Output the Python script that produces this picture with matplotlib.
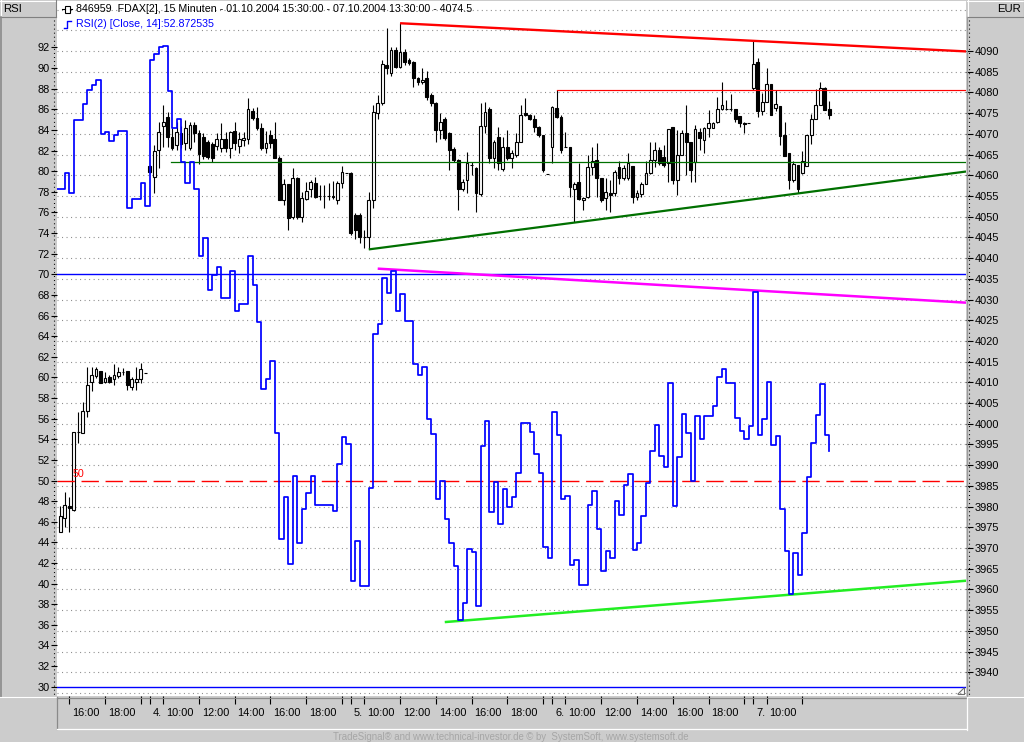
import numpy as np
import matplotlib
matplotlib.use("Agg")
import matplotlib.pyplot as plt
from matplotlib.lines import Line2D
from matplotlib.patches import Rectangle
from matplotlib.ticker import FixedLocator, MultipleLocator
import matplotlib.transforms as mtrans

plt.rcParams['font.family'] = ['Liberation Sans', 'DejaVu Sans']
plt.rcParams['lines.scale_dashes'] = False

# ---------------- data (15-minute bars, FDAX, 01.10.2004 15:30 - 07.10.2004 13:30) ----------------
opens = [3973.9, 3977.2, 3980.1, 3979.2, 3997.9, 3997.7, 4003.1, 4010.2, 4011.5, 4012.8,
         4010.2, 4011.2, 4010.7, 4011.5, 4012.6, 4012.7, 4008.8, 4010.2, 4010.7, 4012.2,
         4062.3, 4059.7, 4066.1, 4071.9, 4074.1, 4069.3, 4067.3, 4070.3, 4067.7, 4066.5,
         4072.1, 4070.3, 4069.3, 4068.1, 4067.5, 4067.1, 4066.5, 4068.7, 4066.5, 4070.7,
         4067.1, 4068.5, 4068.7, 4075.5, 4073.9, 4071.5, 4066.7, 4069.7, 4068.7, 4064.2,
         4054.0, 4057.8, 4050.0, 4059.3, 4050.0, 4054.2, 4056.8, 4058.2, 4055.0, 4055.0,
         4055.0, 4055.0, 4054.0, 4058.2, 4060.5, 4060.5, 4050.3, 4050.3, 4045.2, 4045.0,
         4054.0, 4075.0, 4077.4, 4086.5, 4084.8, 4090.2, 4086.2, 4089.8, 4087.8, 4087.4,
         4083.4, 4082.4, 4083.4, 4079.4, 4077.4, 4070.9, 4073.7, 4070.1, 4066.3, 4063.7,
         4056.8, 4058.8, 4062.5, 4061.7, 4055.5, 4071.9, 4076.1, 4064.1, 4069.3, 4061.5,
         4066.9, 4064.1, 4064.9, 4068.1, 4075.0, 4074.5, 4073.7, 4071.7, 4069.7, 4060.3,
         4066.9, 4076.2, 4074.1, 4066.9, 4066.9, 4056.8, 4058.4, 4054.0, 4054.8, 4062.1,
         4063.7, 4059.3, 4054.4, 4055.8, 4055.6, 4061.9, 4059.3, 4059.3, 4062.3, 4054.8,
         4055.5, 4058.0, 4060.6, 4063.8, 4066.2, 4064.5, 4062.9, 4071.7, 4058.8, 4064.9,
         4070.3, 4068.1, 4063.3, 4070.5, 4068.4, 4071.4, 4071.5, 4072.9, 4076.0, 4076.0,
         4075.9, 4076.0, 4074.2, 4072.7, 4072.7, 4081.0, 4087.4, 4075.5, 4077.7, 4082.0,
         4076.3, 4076.7, 4069.7, 4065.3, 4058.8, 4062.5, 4060.5, 4062.3, 4069.7, 4073.7,
         4077.0, 4081.0, 4075.9]
highs = [3980.1, 3983.6, 3982.4, 3998.0, 4002.9, 4005.3, 4013.8, 4013.8, 4013.8, 4012.8,
         4012.6, 4011.8, 4014.4, 4013.6, 4013.5, 4012.7, 4011.2, 4013.6, 4014.6, 4012.2,
         4062.5, 4067.3, 4072.9, 4076.9, 4075.3, 4071.3, 4072.9, 4071.8, 4073.3, 4072.9,
         4072.9, 4070.9, 4070.1, 4068.5, 4068.1, 4070.1, 4072.5, 4070.5, 4070.7, 4072.9,
         4070.5, 4070.5, 4078.6, 4076.3, 4076.5, 4072.5, 4070.7, 4070.9, 4072.9, 4064.6,
         4059.2, 4058.0, 4061.7, 4059.5, 4056.0, 4058.4, 4058.8, 4059.6, 4057.7, 4057.7,
         4058.2, 4058.6, 4058.7, 4062.2, 4060.5, 4060.7, 4051.0, 4050.8, 4046.8, 4056.0,
         4077.0, 4079.4, 4087.8, 4095.5, 4091.0, 4091.0, 4096.7, 4090.4, 4088.2, 4087.6,
         4083.8, 4085.8, 4085.2, 4079.8, 4077.6, 4075.0, 4074.1, 4070.5, 4066.8, 4064.0,
         4059.0, 4065.7, 4063.2, 4062.1, 4077.4, 4077.7, 4076.5, 4068.5, 4071.7, 4069.3,
         4070.9, 4066.1, 4070.1, 4076.9, 4078.6, 4074.9, 4074.5, 4072.0, 4069.7, 4060.3,
         4076.6, 4080.6, 4074.5, 4070.5, 4066.9, 4058.4, 4063.0, 4054.8, 4064.9, 4066.9,
         4067.7, 4059.3, 4059.3, 4058.8, 4061.3, 4063.5, 4062.5, 4065.3, 4062.3, 4056.5,
         4058.4, 4063.5, 4068.1, 4068.1, 4066.9, 4067.3, 4071.1, 4071.7, 4070.9, 4070.9,
         4076.9, 4068.1, 4072.1, 4071.5, 4071.7, 4075.8, 4072.9, 4079.0, 4082.6, 4078.2,
         4079.5, 4076.0, 4074.4, 4072.9, 4072.7, 4092.3, 4088.2, 4079.8, 4085.8, 4082.0,
         4080.6, 4076.7, 4072.9, 4065.3, 4063.5, 4062.5, 4065.9, 4069.7, 4074.7, 4080.9,
         4082.4, 4081.4, 4077.9]
lows = [3973.9, 3975.1, 3973.9, 3979.0, 3995.4, 3997.7, 4001.7, 4007.8, 4011.0, 4009.8,
        4009.9, 4009.9, 4009.4, 4011.0, 4011.8, 4008.2, 4008.2, 4008.2, 4009.8, 4012.2,
        4060.5, 4055.8, 4061.7, 4066.9, 4066.9, 4066.1, 4066.1, 4066.5, 4066.1, 4066.1,
        4068.1, 4062.7, 4064.0, 4064.0, 4063.2, 4066.1, 4065.7, 4065.7, 4064.2, 4066.1,
        4065.3, 4067.0, 4067.5, 4073.3, 4070.9, 4066.1, 4065.3, 4066.5, 4064.2, 4054.0,
        4052.8, 4046.8, 4049.5, 4049.5, 4048.8, 4054.0, 4054.8, 4054.5, 4054.0, 4052.0,
        4054.0, 4054.2, 4053.0, 4057.0, 4060.5, 4045.5, 4044.5, 4043.7, 4042.5, 4042.2,
        4052.0, 4073.5, 4077.0, 4084.5, 4084.0, 4085.8, 4086.0, 4086.6, 4086.6, 4081.3,
        4081.8, 4082.0, 4078.2, 4076.6, 4068.1, 4068.7, 4068.5, 4061.3, 4063.2, 4051.6,
        4056.2, 4055.6, 4060.1, 4051.2, 4055.0, 4070.1, 4062.9, 4061.7, 4061.3, 4061.1,
        4063.6, 4061.7, 4064.5, 4068.0, 4074.3, 4073.3, 4070.5, 4069.3, 4060.9, 4060.3,
        4062.9, 4073.8, 4065.3, 4066.9, 4054.8, 4048.8, 4054.0, 4051.6, 4054.6, 4060.1,
        4054.8, 4053.6, 4051.6, 4051.2, 4055.0, 4058.0, 4058.8, 4058.8, 4053.4, 4054.0,
        4054.8, 4057.8, 4060.3, 4062.1, 4062.5, 4062.1, 4058.4, 4058.0, 4055.2, 4064.9,
        4060.0, 4058.4, 4058.4, 4066.0, 4065.3, 4069.3, 4071.3, 4072.5, 4075.8, 4075.8,
        4075.5, 4072.9, 4071.7, 4070.1, 4072.7, 4080.6, 4074.0, 4074.5, 4077.7, 4074.5,
        4075.5, 4067.3, 4064.6, 4056.6, 4058.4, 4055.6, 4060.3, 4062.3, 4067.5, 4073.7,
        4076.9, 4075.8, 4073.7]
closes = [3977.7, 3980.4, 3979.6, 3997.9, 3997.9, 4003.1, 4009.4, 4011.8, 4013.2, 4009.9,
          4011.0, 4010.2, 4011.8, 4012.6, 4012.6, 4009.4, 4010.7, 4010.7, 4013.2, 4012.2,
          4060.8, 4065.9, 4070.5, 4072.9, 4069.3, 4066.6, 4070.5, 4067.5, 4071.3, 4072.1,
          4070.1, 4065.1, 4064.6, 4064.4, 4064.2, 4068.7, 4068.7, 4066.5, 4070.5, 4067.7,
          4068.7, 4069.0, 4076.0, 4073.9, 4071.3, 4066.7, 4067.7, 4067.7, 4064.2, 4054.0,
          4057.8, 4049.8, 4059.3, 4050.0, 4054.4, 4056.2, 4058.4, 4054.8, 4055.0, 4055.0,
          4055.0, 4054.8, 4058.2, 4060.7, 4060.5, 4046.0, 4046.8, 4045.0, 4045.0, 4054.0,
          4075.3, 4077.4, 4086.8, 4086.0, 4090.2, 4086.2, 4089.8, 4087.4, 4087.2, 4083.4,
          4082.4, 4083.0, 4079.0, 4077.4, 4070.9, 4072.9, 4068.9, 4066.1, 4063.7, 4056.8,
          4058.4, 4062.9, 4062.4, 4055.6, 4071.9, 4075.3, 4064.1, 4068.1, 4062.9, 4066.9,
          4064.1, 4065.3, 4068.1, 4074.5, 4074.5, 4073.5, 4071.6, 4069.7, 4061.3, 4060.3,
          4076.4, 4074.0, 4066.1, 4066.9, 4057.2, 4058.0, 4054.2, 4054.4, 4062.1, 4063.5,
          4059.3, 4054.0, 4055.9, 4055.3, 4060.7, 4059.3, 4061.7, 4062.9, 4054.8, 4055.8,
          4057.8, 4060.5, 4063.6, 4066.2, 4062.9, 4062.5, 4071.1, 4058.8, 4064.9, 4070.3,
          4068.1, 4061.3, 4071.1, 4068.9, 4071.4, 4072.7, 4072.5, 4076.0, 4076.9, 4076.0,
          4075.9, 4073.7, 4072.5, 4072.4, 4072.7, 4086.8, 4075.5, 4077.7, 4082.0, 4074.5,
          4077.1, 4069.5, 4064.6, 4058.8, 4062.7, 4056.8, 4063.5, 4069.7, 4073.7, 4077.0,
          4081.0, 4075.8, 4074.5]
rsi = [78.3, 79.8, 77.9, 85.0, 85.0, 86.5, 87.9, 88.4, 88.8, 83.6,
       83.8, 82.9, 83.5, 83.9, 83.9, 76.4, 77.3, 77.3, 78.9, 76.6,
       90.8, 91.4, 92.0, 92.1, 87.8, 84.2, 85.1, 80.9, 78.9, 80.9,
       78.3, 71.8, 73.5, 68.5, 69.9, 70.7, 67.7, 67.7, 70.3, 66.4,
       67.1, 67.1, 71.8, 69.0, 65.4, 58.9, 59.8, 61.6, 54.6, 44.3,
       48.4, 41.9, 50.4, 43.9, 47.2, 48.8, 50.4, 47.6, 47.6, 47.6,
       47.6, 47.0, 51.6, 54.2, 53.5, 40.25, 44.1, 39.8, 39.8, 49.3,
       64.2, 65.2, 69.6, 68.2, 70.3, 66.4, 68.1, 65.5, 65.5, 61.3,
       60.2, 61.0, 56.0, 54.5, 48.2, 50.0, 46.3, 43.9, 41.7, 36.5,
       38.1, 43.4, 43.1, 37.8, 53.3, 55.8, 46.9, 49.9, 45.75, 49.2,
       47.4, 48.4, 50.7, 55.6, 55.6, 54.7, 52.6, 50.7, 43.6, 42.5,
       56.6, 54.4, 48.2, 48.5, 41.8, 42.3, 39.9, 39.9, 47.6, 49.0,
       45.3, 41.2, 43.2, 42.5, 48.0, 46.7, 49.6, 50.6, 43.3, 43.9,
       46.6, 49.8, 52.9, 55.4, 52.4, 51.3, 59.5, 47.5, 52.3, 56.5,
       54.6, 50.0, 56.3, 54.0, 56.3, 56.3, 57.2, 60.0, 60.8, 59.5,
       59.5, 56.1, 54.8, 54.0, 55.3, 68.25, 54.4, 56.0, 59.6, 53.4,
       54.3, 47.2, 43.2, 39.0, 43.0, 40.8, 44.9, 50.3, 53.6, 56.35,
       59.4, 54.4, 52.872535]

# time axis (bar index of each tick and its label)
time_tick_bars = [2, 10, 18, 20, 23, 31, 39, 47, 55, 63, 65, 68, 76, 84, 92, 100, 108,
                  110, 113, 121, 129, 137, 145, 153, 155, 158, 166]
time_tick_labels = ["16:00", "18:00", "", "4.", "10:00", "12:00", "14:00", "16:00", "18:00", "",
                    "5.", "10:00", "12:00", "14:00", "16:00", "18:00", "", "6.", "10:00",
                    "12:00", "14:00", "16:00", "18:00", "", "7.", "10:00", ""]
rsi_ticks = list(range(30, 93, 2))
price_ticks = list(range(3940, 4091, 5))

# drawn studies: (bar, value) anchors; the last bar is the right edge of the chart
red_trend_bars = [76, 202.6]
red_trend_prices = [4096.7, 4089.9]
green_trend_bars = [69, 202.6]
green_trend_prices = [4042.1, 4060.9]
magenta_trend_bars = [71, 202.6]
magenta_trend_rsi = [70.55, 67.25]
lime_trend_bars = [86, 202.6]
lime_trend_rsi = [36.27, 40.28]
red_level_start, red_level = 111, 4080.6
green_level_start, green_level = 24.8, 4063.1
rsi_levels = [70, 30]
rsi_mid = 50

# ---------------- figure ----------------
W, H = 1024, 742
PANEL = '#cccccc'
fig = plt.figure(figsize=(W / 100, H / 100), dpi=100, facecolor=PANEL)


def fx(x):
    return x / W


def fy(y):
    return 1 - y / H


rect = [fx(57), fy(696), 909 / W, 695 / H]
ax_p = fig.add_axes(rect)
ax_r = fig.add_axes(rect)
ax_p.set_facecolor('white')
ax_r.patch.set_visible(False)
XMIN, XMAX = -0.74, 202.6
for ax in (ax_p, ax_r):
    ax.set_xlim(XMIN, XMAX)
    for s in ax.spines.values():
        s.set_visible(False)
ax_p.set_ylim(3934.28, 4102.07)
ax_r.set_ylim(29.10, 96.51)

# grid (price scale, every 5 points)
ax_p.yaxis.set_major_locator(FixedLocator(price_ticks))
ax_p.yaxis.set_minor_locator(MultipleLocator(5))
ax_p.grid(which='both', axis='y', color='#8c8c8c', linestyle=(0, (0.75, 2.5)), linewidth=0.8)
ax_p.set_axisbelow(True)

# right price axis
ax_p.yaxis.tick_right()
ax_p.tick_params(axis='y', which='major', direction='out', length=5, width=0.8, pad=1.5,
                 labelsize=7.9, colors='black')
ax_p.tick_params(axis='y', which='minor', length=0)
ax_p.set_yticklabels([str(v) for v in price_ticks])

# left RSI axis
ax_r.set_yticks(rsi_ticks)
ax_r.set_yticklabels([str(v) for v in rsi_ticks])
ax_r.tick_params(axis='y', direction='out', length=4.3, width=0.8, pad=1.0, labelsize=7.9,
                 colors='black')
ax_r.set_xticks([])

# time axis ticks
ax_p.set_xticks(time_tick_bars)
ax_p.set_xticklabels([''] * len(time_tick_bars))
ax_p.tick_params(axis='x', direction='out', length=5.5, width=0.8, color='black', pad=0)
tt = mtrans.blended_transform_factory(ax_p.transData, fig.transFigure) + \
    mtrans.ScaledTranslation(3 / 100, 0, fig.dpi_scale_trans)
for b, lab in zip(time_tick_bars, time_tick_labels):
    if lab:
        ax_p.text(b, fy(712.5), lab, transform=tt, ha='left', va='center', fontsize=7.9,
                  color='black', clip_on=False)

# candles
bars = np.arange(len(closes))
o, h, l, c = map(np.array, (opens, highs, lows, closes))
ax_p.vlines(bars, l, h, color='black', linewidth=0.8, zorder=3)
fill = np.where(c > o, 'white', 'black')
ax_p.bar(bars, np.abs(c - o), bottom=np.minimum(o, c), width=0.62, color=fill,
         edgecolor='black', linewidth=0.8, zorder=4)

# price studies
ax_p.plot(red_trend_bars, red_trend_prices, color='#ff0000', linewidth=1.7, zorder=5,
          solid_capstyle='butt')
ax_p.plot(green_trend_bars, green_trend_prices, color='#007000', linewidth=1.6, zorder=5,
          solid_capstyle='butt')
ax_p.plot([red_level_start, XMAX], [red_level, red_level], color='#ff0000', linewidth=0.85, zorder=5)
ax_p.plot([green_level_start, XMAX], [green_level, green_level], color='#007000', linewidth=0.9,
          zorder=5)

# RSI
for lev in rsi_levels:
    ax_r.axhline(lev, color='#0000ff', linewidth=1.0, zorder=2)
ax_r.axhline(rsi_mid, color='#ff0000', linewidth=1.0, linestyle=(0, (12.5, 4.8)), zorder=2)
ax_r.text(fx(73 - 57) * W / 909, rsi_mid, str(rsi_mid), color='#ff0000', fontsize=7.7,
          transform=mtrans.blended_transform_factory(ax_r.transAxes, ax_r.transData) +
          mtrans.ScaledTranslation(0, 1.5 / 100, fig.dpi_scale_trans),
          ha='left', va='bottom')
ax_r.plot(magenta_trend_bars, magenta_trend_rsi, color='#ff00ff', linewidth=1.8, zorder=3,
          solid_capstyle='butt')
ax_r.plot(lime_trend_bars, lime_trend_rsi, color='#22ee22', linewidth=1.8, zorder=3,
          solid_capstyle='butt')
xs = np.concatenate([[XMIN - 1], bars])
ys = np.concatenate([[rsi[0]], rsi])
ax_r.step(xs, ys, where='post', color='#0000ff', linewidth=1.25, zorder=4)

# ---------------- chrome ----------------
def fline(xs_, ys_, **kw):
    fig.add_artist(Line2D([fx(v) for v in xs_], [fy(v) for v in ys_], **kw))


def box(x0, y0, x1, y1, face):
    fig.add_artist(Rectangle((fx(x0), fy(y1)), fx(x1) - fx(x0), fy(y0) - fy(y1),
                             facecolor=face, edgecolor='none'))
    fline([x0, x1], [y0 + 0.5, y0 + 0.5], color='white', linewidth=0.8)
    fline([x0 + 0.5, x0 + 0.5], [y0, y1], color='white', linewidth=0.8)
    fline([x0, x1], [y1 - 0.5, y1 - 0.5], color='#808080', linewidth=0.8)
    fline([x1 - 0.5, x1 - 0.5], [y0, y1], color='#808080', linewidth=0.8)


box(0, 0, 56, 17, PANEL)
box(967, 0, 1024, 17, PANEL)
fig.text(fx(3), fy(8.5), 'RSI', fontsize=8.2, va='center', ha='left')
fig.text(fx(1021), fy(8.5), 'EUR', fontsize=8.2, va='center', ha='right')
# left edge shading
fline([0.7, 0.7], [17, 697], color='#8a8a8a', linewidth=1.2)
fline([0, 56], [697, 697], color='white', linewidth=0.8)
# dotted axis rails
fline([54.3, 54.3], [20, 696], color='black', linewidth=0.8, linestyle=(0, (0.72, 2.2)))
fline([968.7, 968.7], [20, 696], color='black', linewidth=0.8, linestyle=(0, (0.72, 2.2)))
fline([966.5, 966.5], [17, 697], color='#9a9a9a', linewidth=0.8)
# time axis panel border
fline([57, 966], [697.8, 697.8], color='#8a8a8a', linewidth=0.9)
fline([57.3, 57.3], [697, 729], color='#8a8a8a', linewidth=0.9)
fline([57, 967], [729.3, 729.3], color='white', linewidth=0.9)
fline([966.7, 966.7], [697, 729.5], color='white', linewidth=0.9)
fline([968, 1024], [696.5, 696.5], color='white', linewidth=0.8)

# title block with icons
fline([62, 64.5], [9, 9], color='black', linewidth=0.8)
fline([69.5, 72], [9, 9], color='black', linewidth=0.8)
fig.add_artist(Rectangle((fx(64.5), fy(12.5)), 5 / W, 7 / H, facecolor='white',
                         edgecolor='black', linewidth=0.8))
fline([63.5, 66.5, 66.5, 70.5], [27.5, 27.5, 20.5, 20.5], color='#0000ff', linewidth=1.0)
fig.text(fx(76), fy(9), '846959  FDAX[2], 15 Minuten - 01.10.2004 15:30:00 - 07.10.2004 13:30:00 - 4074.5',
         fontsize=7.7, va='center', ha='left', color='black')
fig.text(fx(76), fy(24), 'RSI(2) [Close, 14]:52.872535', fontsize=7.7, va='center', ha='left',
         color='#0000ff')

# resize grip
fline([958, 964, 964], [694, 694, 688], color='#707070', linewidth=0.8)
fline([958, 964], [694, 688], color='#707070', linewidth=0.8)

fig.text(fx(511), fy(737), 'TradeSignal\u00ae and www.technical-investor.de \u00a9 by  SystemSoft, www.systemsoft.de',
         fontsize=6.9, color='#a6a6a6', ha='center', va='center')

fig.savefig('out.png', dpi=100, facecolor=PANEL)
